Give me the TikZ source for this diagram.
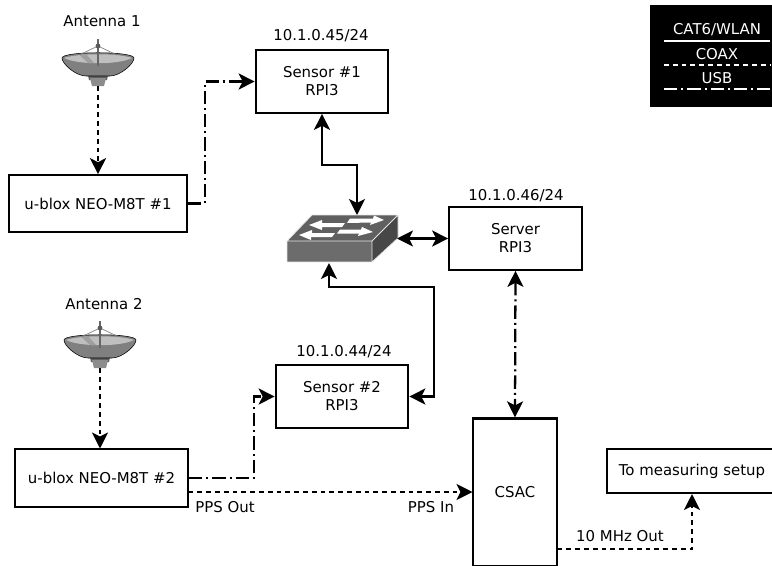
\documentclass[tikz,border=0pt]{standalone}
\usepackage{fontspec}
\setmainfont{DejaVu Sans}
\usetikzlibrary{arrows.meta}
\def\pxu{0.75pt}
\tikzset{
  x=0.75pt,y=-0.75pt,
  txt/.style={inner sep=0pt,font=\fontsize{11.2pt}{13.5pt}\selectfont,align=center},
  boxn/.style={draw=black,line width=1.7pt,fill=white,font=\fontsize{11.2pt}{13.5pt}\selectfont,align=center,inner sep=0pt},
  conn/.style={line width=1.7pt,draw=black},
  solidc/.style={conn},
  coax/.style={conn,dash pattern=on 3.6pt off 3pt},
  usb/.style={conn,dash pattern=on 10pt off 3pt on 1.5pt off 3pt},
  tip/.style={-{Stealth[length=12pt,width=12pt,inset=3pt]}},
  tips/.style={{Stealth[length=12pt,width=12pt,inset=3pt]}-{Stealth[length=12pt,width=12pt,inset=3pt]}},
  leg/.style={line width=1.5pt,draw=white},
  dish/.pic={
    \fill[gray!75!black] (-10,17) -- (10,17) -- (9,22) -- (-9,22) -- cycle;
    \fill[gray!90] (-8,20) -- (8,20) -- (6,28) -- (-6,28) -- cycle;
    \draw[line width=.4pt,fill=gray] (-36,0) .. controls (-36,6) and (-22,18) .. (-12,18) -- (12,18) .. controls (22,18) and (36,6) .. (36,0) .. controls (36,-7) and (-36,-7) .. cycle;
    \fill[gray!50] (-34,0) .. controls (-20,-5) and (20,-5) .. (34,0) .. controls (20,7) and (-20,7) .. cycle;
    \fill[gray!75] (-19,-3.5) -- (-12,-4) -- (-4,5) -- (-10,5) -- cycle;
    \draw[gray,line width=.5pt] (-19,-3) -- (0,-12) -- (19,-3);
    \draw[gray!80!black,line width=1pt] (0,-19) -- (0,8);
    \fill[gray!70!black] (0,-12) circle (2.4);
  },
}
\begin{document}
\begin{tikzpicture}
\useasboundingbox (0,0) rectangle (772,565);
% legend
\fill[black] (650,5) rectangle (772,107);
\node[txt,text=white] (l1) at (717,30) {CAT6/WLAN};
\node[txt,text=white] (l2) at (717,54) {COAX};
\node[txt,text=white] (l3) at (717,78) {USB};
\coordinate (la1) at (664,41); \coordinate (la2) at (770,41);
\coordinate (lb1) at (664,65); \coordinate (lb2) at (770,65);
\coordinate (lc1) at (664,89); \coordinate (lc2) at (770,89);
\draw[leg] (la1) -- (la2);
\draw[leg,dash pattern=on 3.6pt off 3pt] (lb1) -- (lb2);
\draw[leg,dash pattern=on 10pt off 3pt on 1.5pt off 3pt] (lc1) -- (lc2);
% antennas
\pic at (98,58) {dish};
\pic at (100,340) {dish};
\node[txt] (at1) at (102,21) {Antenna 1};
\node[txt] (at2) at (104,304) {Antenna 2};
\coordinate (d1) at (98,86);
\coordinate (d2) at (100,368);
% switch
\fill[gray!75!black] (312,215) -- (398,215) -- (372,241) -- (287,241) -- cycle;
\fill[gray!85!black] (287,241) rectangle (372,262);
\fill[black!72] (372,241) -- (398,215) -- (398,238) -- (372,262) -- cycle;
\draw[white!80!gray,line width=.6pt,line join=round] (287,241) -- (312,215) -- (398,215) -- (398,238) -- (372,262) -- (287,262) -- cycle (287,241) -- (372,241) -- (398,215) (372,241) -- (372,262);
\fill[white] (309,225) -- (322,220) -- (322,223) -- (345,223) -- (342,227) -- (322,227) -- (322,230) -- cycle;
\fill[white] (384,220) -- (374,215.5) -- (373,218.5) -- (350,218.5) -- (347,223) -- (371,222.5) -- (370,225) -- cycle;
\fill[white] (299,235) -- (312,230) -- (312,233) -- (335,233) -- (332,237) -- (311,237) -- (311,240) -- cycle;
\fill[white] (373,232) -- (362,227) -- (361,229.5) -- (340,229.5) -- (337,233.5) -- (359,233.5) -- (358,236) -- cycle;
\coordinate (swn) at (357,215);
\coordinate (sws) at (329,263);
\coordinate (swe) at (397,238.5);
\coordinate (swb) at (434,287);
% boxes
\node[boxn,minimum width=132.4*\pxu,minimum height=62.4*\pxu] (s1) at (322,81.5) {Sensor \#1\\RPI3};
\node[boxn,minimum width=132.4*\pxu,minimum height=62.4*\pxu] (srv) at (515.5,238.5) {Server\\RPI3};
\node[boxn,minimum width=132.4*\pxu,minimum height=62.4*\pxu] (s2) at (342,396.5) {Sensor \#2\\RPI3};
\node[boxn,minimum width=177.4*\pxu,minimum height=56.4*\pxu] (u1) at (98,203.5) {u-blox NEO-M8T \#1};
\node[boxn,minimum width=172.4*\pxu,minimum height=57.4*\pxu] (u2) at (101.5,478) {u-blox NEO-M8T \#2};
\node[boxn,minimum width=83.4*\pxu,minimum height=148*\pxu] (csac) at (515,492.5) {CSAC};
\node[boxn,minimum width=170.4*\pxu,minimum height=43.4*\pxu] (ms) at (692,471) {To measuring setup};
\coordinate (mss) at (692,494);
% labels
\node[txt] (ip1) at (321,36) {10.1.0.45/24};
\node[txt] (ip2) at (516,196) {10.1.0.46/24};
\node[txt] (ip3) at (344,352) {10.1.0.44/24};
\node[txt] (pout) at (225,507) {PPS Out};
\node[txt] (pin) at (431,507) {PPS In};
\node[txt] (mhz) at (620,536) {10 MHz Out};
% connectors
\draw[coax,tip] (d1) -- (u1.north);
\draw[coax,tip] (d2) -- (100,448.5);
\draw[usb,tip] (u1.east) -- ++(17,0) |- (s1.west);
\draw[solidc,tips] (s1.south) -- ++(0,51) -| (swn);
\draw[solidc,tips] (swe) -- (srv.west);
\draw[solidc,tips] (sws) |- (swb) |- (s2.east);
\draw[usb,tips] (srv.south) -- (csac.north);
\draw[usb,tip] (u2.east) -- ++(65,0) |- (s2.west);
\coordinate (ppsa) at (188.5,492);
\coordinate (ppsb) at (472.5,492);
\draw[coax,tip] (ppsa) -- (ppsb);
\coordinate (ca) at (557.5,549);
\draw[coax,tip] (ca) -| (mss);
\end{tikzpicture}
\end{document}
